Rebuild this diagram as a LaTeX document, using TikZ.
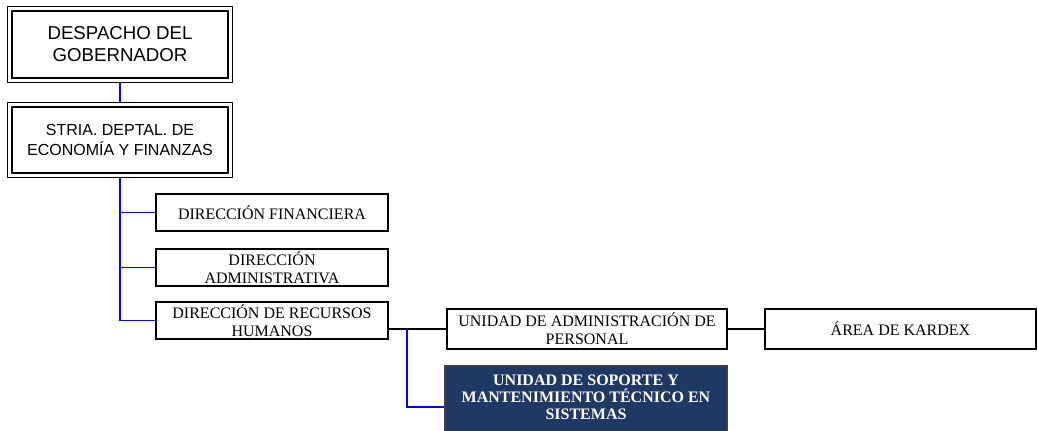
\documentclass[tikz,border=0pt]{standalone}
\usepackage{fontspec}
\setmainfont{Liberation Serif}
\newfontfamily\arialfont{Liberation Sans}
\usepackage{xcolor}
\usepackage{tikz}
\usetikzlibrary{positioning,calc,fit}
\definecolor{navy}{RGB}{31,56,100}
\tikzset{
  head/.style={draw, line width=1.8pt, align=center, inner sep=2pt,
               font=\arialfont\fontsize{12pt}{15pt}\selectfont},
  frame/.style={draw, line width=0.7pt, inner sep=2.4pt},
  unit/.style={draw, line width=1.3pt, align=center, inner sep=2pt,
               font=\fontsize{12pt}{13.6pt}\selectfont},
  dark/.style={draw=black!75, line width=1.3pt, fill=navy, text=white,
               align=center, inner sep=2pt,
               font=\bfseries\fontsize{12pt}{12.8pt}\selectfont},
  bline/.style={draw=blue, line width=1.25pt},
  kline/.style={draw=black, line width=1.25pt}
}
\begin{document}
\begin{tikzpicture}[x=0.75pt,y=-0.75pt]
  \useasboundingbox (0,0) rectangle (1038,431);
  \node[head, minimum width=162pt, minimum height=50.25pt,
        font=\arialfont\fontsize{14pt}{16.5pt}\selectfont] (gob) at (120,44.5) {DESPACHO DEL\\GOBERNADOR};
  \node[frame, fit=(gob)] (gobf) {};
  \node[head, minimum width=162pt, minimum height=49.5pt] (stria) at (120,140) {STRIA. DEPTAL. DE\\ECONOMÍA Y FINANZAS};
  \node[frame, fit=(stria)] (striaf) {};
  \node[unit, minimum width=174pt, minimum height=27.75pt] (dfin) at (272,212.5) {DIRECCIÓN FINANCIERA};
  \node[unit, minimum width=174pt, minimum height=27.75pt] (dadm) at (272,267.5) {DIRECCIÓN\\ADMINISTRATIVA};
  \node[unit, minimum width=174pt, minimum height=26.25pt] (drh) at (272,320.5) {DIRECCIÓN DE RECURSOS\\HUMANOS};
  \node[unit, minimum width=210pt, minimum height=30pt] (uadm) at (587,329) {UNIDAD DE ADMINISTRACIÓN DE\\PERSONAL};
  \node[unit, minimum width=203.25pt, minimum height=30pt] (kardex) at (900.5,329) {ÁREA DE KARDEX};
  \node[dark, minimum width=211.5pt, minimum height=61.5pt, text depth=15pt] (usop) at (586,407) {UNIDAD DE SOPORTE Y\\MANTENIMIENTO TÉCNICO EN\\SISTEMAS};
  \coordinate (tap) at (407,329);
  \draw[bline] (gobf.south) -- (striaf.north);
  \draw[bline] (striaf.south) |- (dfin.west);
  \draw[bline] (striaf.south) |- (dadm.west);
  \draw[bline] (striaf.south) |- (drh.west);
  \draw[kline] (drh.east |- uadm.west) -- (uadm.west);
  \draw[kline] (uadm.east) -- (kardex.west);
  \draw[bline] (tap) |- (usop.west);
\end{tikzpicture}
\end{document}
